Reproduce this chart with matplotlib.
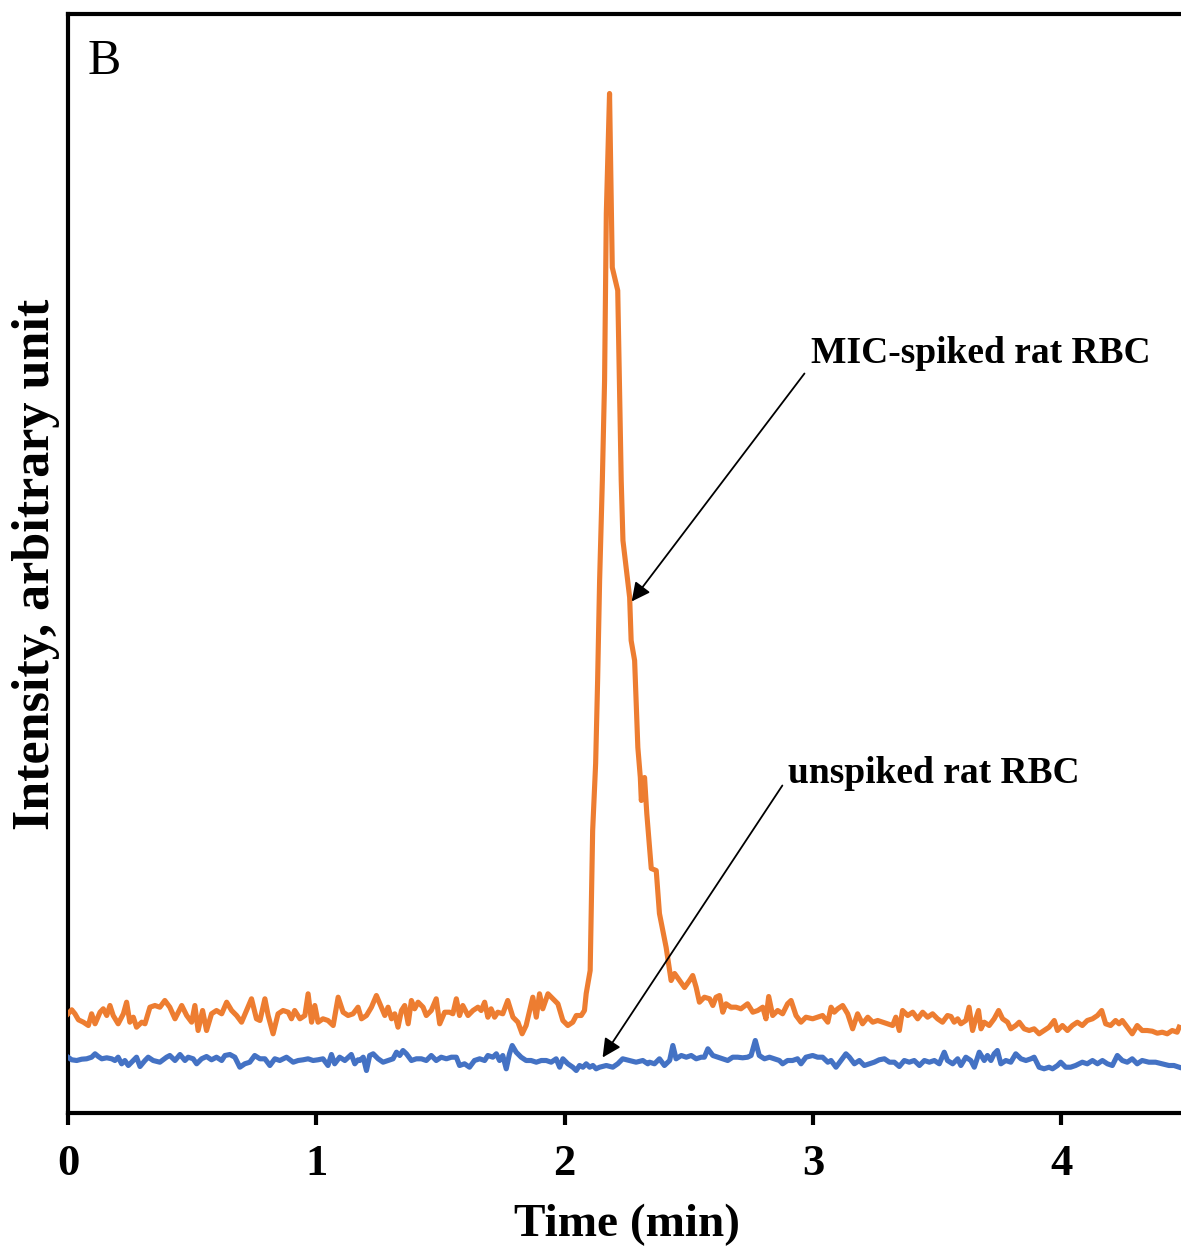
import matplotlib
matplotlib.use("Agg")
import matplotlib.pyplot as plt

# ---- data (time in min, intensity in arbitrary units) ----
mic_time = [
    0.000, 0.015, 0.028, 0.042, 0.062, 0.082, 0.095, 0.109, 0.129, 0.142, 0.156, 0.169, 0.182, 0.202,
    0.223, 0.236, 0.249, 0.263, 0.276, 0.297, 0.310, 0.330, 0.350, 0.370, 0.390, 0.410, 0.431, 0.458,
    0.478, 0.498, 0.511, 0.524, 0.542, 0.558, 0.578, 0.598, 0.619, 0.639, 0.659, 0.679, 0.699, 0.719,
    0.739, 0.759, 0.773, 0.793, 0.806, 0.826, 0.846, 0.866, 0.887, 0.900, 0.913, 0.934, 0.954, 0.967,
    0.981, 0.994, 1.007, 1.027, 1.047, 1.068, 1.088, 1.108, 1.128, 1.148, 1.168,
    1.182, 1.202, 1.222, 1.242, 1.262, 1.276, 1.289, 1.303, 1.316, 1.329, 1.343, 1.356, 1.370, 1.383,
    1.396, 1.410, 1.430, 1.443, 1.463, 1.483, 1.497, 1.517, 1.537, 1.550, 1.564, 1.577, 1.590, 1.611,
    1.631, 1.651, 1.664, 1.678, 1.691, 1.704, 1.718, 1.731, 1.751, 1.771, 1.792, 1.812, 1.829, 1.845,
    1.872, 1.886, 1.899, 1.912, 1.933, 1.953, 1.973, 1.993, 2.013, 2.033, 2.047, 2.067, 2.080,
    2.087, 2.103, 2.107, 2.113, 2.125, 2.133, 2.141, 2.152, 2.161, 2.168, 2.181, 2.192, 2.214, 2.228,
    2.235, 2.248, 2.262, 2.268, 2.282, 2.295, 2.305, 2.309, 2.322, 2.331, 2.349, 2.369, 2.382, 2.409,
    2.429, 2.443, 2.463, 2.483, 2.503, 2.516, 2.530,
    2.543, 2.563, 2.584, 2.597, 2.610, 2.624, 2.637, 2.650, 2.670, 2.690, 2.710, 2.737, 2.758, 2.778,
    2.798, 2.811, 2.822, 2.838, 2.858, 2.878, 2.898, 2.912, 2.932, 2.952, 2.972, 2.999, 3.019, 3.039,
    3.060, 3.073, 3.086, 3.100, 3.120, 3.140, 3.160, 3.180, 3.200, 3.221, 3.241, 3.261, 3.281, 3.301,
    3.321, 3.334, 3.348, 3.361, 3.382, 3.402, 3.422, 3.442, 3.462, 3.482, 3.502, 3.522, 3.542,
    3.556, 3.569, 3.583, 3.596, 3.616, 3.629, 3.643, 3.656, 3.667, 3.677, 3.690, 3.710, 3.730, 3.748,
    3.764, 3.784, 3.797, 3.817, 3.831, 3.851, 3.871, 3.891, 3.911, 3.931, 3.951, 3.972, 3.985, 4.005,
    4.025, 4.045, 4.065, 4.085, 4.105, 4.126, 4.146, 4.163, 4.179, 4.199, 4.219, 4.233, 4.246, 4.266,
    4.286, 4.306, 4.326, 4.346, 4.367, 4.387, 4.407, 4.427, 4.447, 4.467, 4.475,
]
mic_intensity = [
    98.7, 102.7, 98.7, 92.7, 90.3, 87.0, 98.7, 88.7, 100.3, 103.7, 97.0, 107.0, 97.0, 88.7,
    98.7, 110.3, 90.3, 95.3, 85.3, 90.3, 88.7, 105.3, 107.0, 105.3, 112.0, 105.3, 93.7, 107.0,
    97.0, 90.3, 107.0, 82.0, 102.0, 82.0, 98.7, 102.0, 98.7, 110.3, 102.0, 97.0, 90.3, 102.0,
    113.7, 93.7, 92.0, 113.7, 97.0, 78.7, 98.7, 102.0, 100.3, 93.7, 102.0, 93.7, 97.0, 118.7,
    90.3, 107.0, 90.3, 93.7, 92.0, 87.0, 115.3, 100.3, 97.0, 98.7, 105.3,
    93.7, 97.0, 105.3, 117.0, 105.3, 97.0, 105.3, 93.7, 98.7, 85.3, 102.0, 107.0, 88.7, 112.0,
    103.7, 110.3, 105.3, 97.0, 102.0, 113.7, 88.7, 100.3, 100.3, 98.7, 113.7, 97.0, 107.0, 97.0,
    102.0, 105.3, 102.0, 110.3, 95.3, 103.7, 95.3, 100.3, 98.7, 112.0, 95.3, 90.3, 78.7, 87.0,
    115.3, 95.3, 118.7, 103.7, 118.7, 113.7, 108.7, 92.0, 87.0, 90.3, 97.0, 97.0, 102.0,
    119.0, 142.0, 199.0, 282.0, 349.0, 432.0, 532.0, 632.0, 732.0, 899.0, 1019.0, 845.0, 822.0, 632.0,
    572.0, 545.0, 515.0, 472.0, 452.0, 365.0, 335.0, 312.0, 335.0, 299.0, 244.0, 242.0, 199.0, 165.0,
    132.0, 139.0, 132.0, 125.0, 132.0, 137.0, 125.0,
    110.3, 115.3, 113.7, 107.0, 115.3, 117.0, 100.3, 108.7, 105.3, 105.3, 103.7, 108.7, 100.3, 102.0,
    105.3, 93.7, 116.0, 97.0, 102.0, 98.7, 108.7, 112.0, 97.0, 90.3, 95.3, 93.7, 95.3, 97.0,
    90.3, 105.3, 100.3, 103.7, 107.0, 98.7, 83.7, 98.7, 88.7, 95.3, 90.3, 92.0, 90.3, 88.7,
    87.0, 95.3, 82.0, 102.0, 97.0, 100.3, 93.7, 100.3, 95.3, 98.7, 93.7, 90.3, 97.0,
    96.0, 90.3, 93.7, 88.7, 92.0, 105.3, 82.0, 93.7, 102.0, 83.7, 90.3, 87.0, 93.7, 102.0,
    93.7, 90.3, 83.7, 87.0, 90.3, 83.7, 82.0, 83.7, 78.7, 82.0, 85.3, 92.0, 82.0, 87.0,
    82.0, 87.0, 90.3, 87.0, 92.0, 93.7, 97.0, 102.0, 88.7, 87.0, 92.0, 88.7, 92.0, 85.3,
    78.7, 87.0, 82.0, 82.0, 81.3, 79.3, 80.3, 78.7, 82.0, 80.3, 85.3,
]

unspiked_time = [
    0.000, 0.015, 0.035, 0.055, 0.075, 0.095, 0.109, 0.122, 0.136, 0.156, 0.176, 0.189, 0.202, 0.216,
    0.229, 0.243, 0.256, 0.276, 0.290, 0.310, 0.323, 0.343, 0.370, 0.397, 0.410, 0.431, 0.451, 0.471,
    0.484, 0.504, 0.518, 0.538, 0.558, 0.578, 0.598, 0.619, 0.632, 0.652, 0.672, 0.692, 0.712, 0.732,
    0.752, 0.773, 0.793, 0.813, 0.833, 0.853, 0.880, 0.907, 0.927, 0.947, 0.967, 0.987, 1.007, 1.027,
    1.047, 1.061, 1.074, 1.094, 1.115, 1.141, 1.155, 1.168,
    1.175, 1.189, 1.202, 1.215, 1.229, 1.249, 1.269, 1.289, 1.309, 1.323, 1.336, 1.349, 1.363, 1.383,
    1.403, 1.423, 1.443, 1.463, 1.483, 1.503, 1.524, 1.544, 1.564, 1.577, 1.597, 1.617, 1.637, 1.658,
    1.678, 1.691, 1.711, 1.725, 1.738, 1.751, 1.765, 1.778, 1.789, 1.805, 1.825, 1.845, 1.865, 1.886,
    1.906, 1.926, 1.946, 1.966, 1.980, 1.993, 2.013, 2.033, 2.047, 2.060, 2.074, 2.087, 2.101, 2.114,
    2.127, 2.141,
    2.168, 2.194, 2.214, 2.234, 2.261, 2.288, 2.315, 2.335,
    2.342, 2.362, 2.382, 2.402, 2.423, 2.436, 2.449, 2.470, 2.490, 2.510, 2.530, 2.550, 2.563, 2.577,
    2.597, 2.617, 2.637, 2.657, 2.677, 2.697, 2.717, 2.737, 2.751, 2.768, 2.784, 2.805, 2.825, 2.845,
    2.865, 2.878, 2.898, 2.918, 2.938, 2.952, 2.972, 2.999, 3.019, 3.039, 3.060, 3.073, 3.093, 3.113,
    3.133, 3.147, 3.167, 3.187, 3.207, 3.227, 3.247, 3.267, 3.288, 3.308, 3.328, 3.348, 3.368, 3.388,
    3.408, 3.429, 3.449, 3.469, 3.489, 3.509, 3.529, 3.542,
    3.563, 3.583, 3.596, 3.616, 3.636, 3.650, 3.670, 3.690, 3.703, 3.717, 3.730, 3.743, 3.757, 3.777,
    3.797, 3.817, 3.838, 3.858, 3.878, 3.891, 3.911, 3.931, 3.951, 3.965, 3.985, 3.998, 4.018, 4.038,
    4.058, 4.085, 4.105, 4.126, 4.146, 4.166, 4.186, 4.206, 4.226, 4.246, 4.266, 4.286, 4.306, 4.326,
    4.353, 4.380, 4.407, 4.434, 4.454, 4.475,
]
unspiked_intensity = [
    55.3, 52.7, 52.0, 53.3, 53.7, 55.3, 58.7, 56.0, 53.7, 54.7, 53.7, 52.0, 55.3, 48.7,
    52.0, 47.0, 50.3, 55.3, 46.0, 52.0, 55.3, 52.0, 50.3, 55.3, 57.0, 52.0, 58.0, 52.0,
    55.3, 53.7, 48.7, 53.7, 56.0, 52.7, 55.3, 52.0, 57.0, 58.0, 55.3, 45.3, 48.7, 50.3,
    57.0, 53.7, 53.7, 47.0, 53.7, 52.0, 55.3, 50.3, 52.0, 52.7, 53.7, 52.0, 52.7, 53.7,
    47.0, 58.0, 48.7, 55.3, 52.0, 58.0, 48.7, 52.7,
    52.0, 55.3, 42.0, 57.0, 58.7, 53.7, 50.3, 52.0, 53.7, 60.3, 57.0, 62.0, 58.7, 52.0,
    53.7, 53.7, 52.0, 57.0, 52.0, 55.3, 53.7, 55.3, 55.3, 47.0, 48.7, 45.3, 52.0, 53.7,
    52.0, 57.0, 55.3, 58.7, 52.0, 57.0, 43.7, 58.7, 67.0, 60.3, 55.3, 52.0, 52.0, 50.3,
    52.0, 52.0, 50.3, 53.7, 45.3, 53.7, 48.7, 45.3, 42.0, 47.0, 45.3, 48.7, 45.3, 47.0,
    43.7, 45.3,
    47.0, 45.3, 48.7, 53.7, 52.0, 50.3, 52.0, 48.7,
    50.3, 48.7, 53.7, 47.0, 52.0, 67.0, 53.7, 57.0, 55.3, 57.0, 53.7, 55.3, 55.3, 63.7,
    57.0, 55.3, 53.7, 52.0, 55.3, 55.3, 54.7, 55.3, 57.0, 72.0, 57.0, 53.7, 55.3, 53.7,
    52.0, 48.7, 52.0, 52.0, 53.7, 48.7, 55.3, 57.0, 55.3, 55.3, 50.3, 52.0, 45.3, 52.0,
    58.7, 55.3, 48.7, 52.0, 47.0, 48.7, 50.3, 52.7, 53.7, 50.3, 50.3, 46.0, 52.0, 50.3,
    52.0, 47.0, 52.0, 50.3, 52.0, 48.7, 60.3, 52.0,
    48.7, 53.7, 47.0, 55.3, 52.0, 45.3, 60.3, 52.0, 57.0, 52.0, 58.7, 62.0, 48.7, 52.0,
    50.3, 58.7, 53.7, 52.0, 53.7, 55.3, 45.3, 43.7, 45.3, 43.7, 47.0, 50.3, 45.3, 45.3,
    47.0, 50.3, 48.7, 52.0, 48.7, 52.0, 48.7, 47.0, 57.0, 52.0, 50.3, 53.7, 48.7, 52.0,
    50.3, 50.3, 48.7, 47.0, 47.0, 45.3,
]

x_ticks = [0, 1, 2, 3, 4]
x_tick_labels = ["0", "1", "2", "3", "4"]

# ---- figure ----
plt.rcParams['font.family'] = ['Liberation Serif', 'DejaVu Serif']
fig = plt.figure(figsize=(11.81, 12.5), dpi=100)
W, H = 1181, 1250
left_px, bottom_px, top_px = 68, 1112.5, 13.5
ax = fig.add_axes([left_px / W, (H - bottom_px) / H, (W - left_px) / W, (bottom_px - top_px) / H])

orange = '#ED7D31'
blue = '#4472C4'
ax.plot(mic_time, mic_intensity, color=orange, lw=3.7, solid_joinstyle='round', zorder=3)
ax.plot(unspiked_time, unspiked_intensity, color=blue, lw=3.7, solid_joinstyle='round', zorder=3)

ax.set_xlim(0, (W - left_px) / 248.3)
ax.set_ylim(0, bottom_px - top_px)

for s in ['left', 'bottom', 'top']:
    ax.spines[s].set_linewidth(3.0)
    ax.spines[s].set_color('black')
ax.spines['right'].set_visible(False)

ax.set_xticks(x_ticks)
ax.set_xticklabels(x_tick_labels, fontsize=32, fontweight='bold')
ax.set_yticks([])
ax.tick_params(axis='x', direction='out', length=8.5, width=3.0, pad=14.5)

ax.set_xlabel('Time (min)', fontsize=34, fontweight='bold')
ax.xaxis.set_label_coords(0.502, -0.083)
ax.set_ylabel('Intensity, arbitrary unit', fontsize=37.5, fontweight='bold', va='center')
ax.yaxis.set_label_coords(-0.029, 0.499)

ax.text(0.018, 0.945, 'B', transform=ax.transAxes, fontsize=36, va='baseline', ha='left')

arrow = dict(arrowstyle='-|>', color='black', lw=1.3, mutation_scale=28, shrinkA=0, shrinkB=0)
ax.annotate('', xy=(2.270, 511), xytext=(2.966, 739), arrowprops=arrow)
ax.text(2.994, 759, 'MIC-spiked rat RBC', fontsize=27, fontweight='bold', va='center', ha='left')
ax.annotate('', xy=(2.153, 55), xytext=(2.877, 327), arrowprops=arrow)
ax.text(2.901, 339, 'unspiked rat RBC', fontsize=27, fontweight='bold', va='center', ha='left')

fig.savefig('out.png', dpi=100)
